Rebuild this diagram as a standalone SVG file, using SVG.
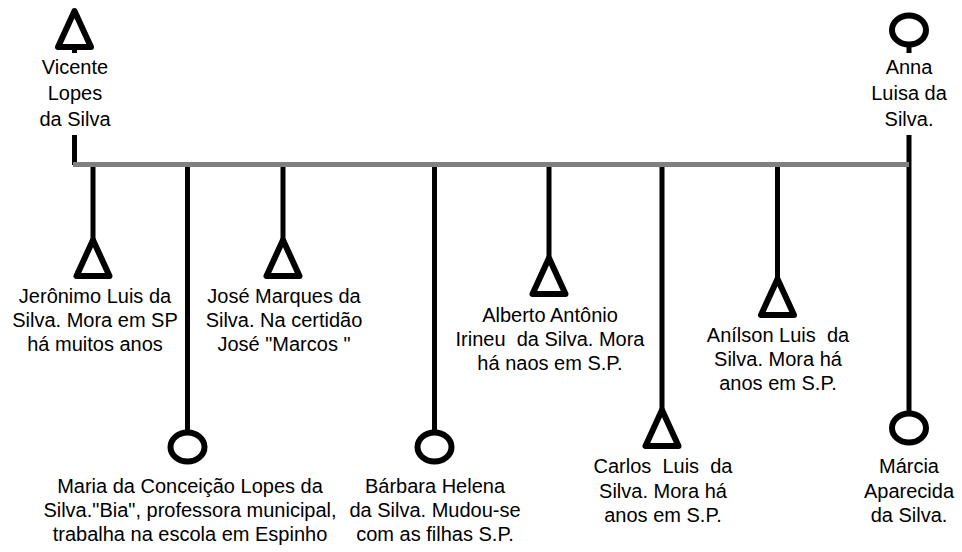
<svg xmlns="http://www.w3.org/2000/svg" xmlns:xlink="http://www.w3.org/1999/xlink" width="962" height="552" viewBox="0 0 962 552">
<style>
.ln{stroke:#000;stroke-width:5;fill:none}
.sym{stroke:#000;stroke-width:6;fill:#fff;stroke-linejoin:round}
.bar{stroke:#808080;stroke-width:5;fill:none}
text{font-family:"Liberation Sans",Arial,sans-serif;font-size:20px;fill:#000;text-anchor:middle;white-space:pre}
</style>
<defs>
<path id="tri" d="M0,0 L-16.5,36 L16.5,36 Z"/>
</defs>
<rect width="962" height="552" fill="#fff"/>
<g id="connectors">
<line class="ln" x1="74.5" y1="135" x2="74.5" y2="165"/>
<line class="ln" x1="909" y1="135" x2="909" y2="413"/>
<line class="ln" x1="74.5" y1="46" x2="74.5" y2="53"/>
<line class="ln" x1="909" y1="44" x2="909" y2="53"/>
<line class="ln" x1="93" y1="164" x2="93" y2="240"/>
<line class="ln" x1="187.5" y1="164" x2="187.5" y2="433"/>
<line class="ln" x1="283" y1="164" x2="283" y2="240"/>
<line class="ln" x1="434.5" y1="164" x2="434.5" y2="433"/>
<line class="ln" x1="549" y1="164" x2="549" y2="258"/>
<line class="ln" x1="662" y1="164" x2="662" y2="410"/>
<line class="ln" x1="777.5" y1="164" x2="777.5" y2="279"/>
<line class="bar" x1="73" y1="164.5" x2="909" y2="164.5"/>
</g>
<g id="vicente">
<use xlink:href="#tri" href="#tri" class="sym" transform="translate(74.5,11)"/>
<text x="75" y="74">Vicente</text>
<text x="75" y="100">Lopes</text>
<text x="75" y="126">da Silva</text>
</g>
<g id="anna">
<ellipse class="sym" cx="909" cy="30" rx="17" ry="14.5"/>
<text x="909" y="74">Anna</text>
<text x="909" y="100">Luisa da</text>
<text x="909" y="126">Silva.</text>
</g>
<g id="jeronimo">
<use xlink:href="#tri" href="#tri" class="sym" transform="translate(93,240)"/>
<text x="95" y="303">Jerônimo Luis da</text>
<text x="95" y="327">Silva. Mora em SP</text>
<text x="95" y="351">há muitos anos</text>
</g>
<g id="maria">
<ellipse class="sym" cx="187.5" cy="447" rx="17" ry="14.5"/>
<text x="190" y="493">Maria da Conceição Lopes da</text>
<text x="190" y="517">Silva."Bia", professora municipal,</text>
<text x="190" y="541">trabalha na escola em Espinho</text>
</g>
<g id="jose">
<use xlink:href="#tri" href="#tri" class="sym" transform="translate(283,240)"/>
<text x="284" y="303">José Marques da</text>
<text x="284" y="327">Silva. Na certidão</text>
<text x="284" y="351">José "Marcos "</text>
</g>
<g id="barbara">
<ellipse class="sym" cx="434.5" cy="447" rx="17" ry="14.5"/>
<text x="435" y="493">Bárbara Helena</text>
<text x="435" y="517">da Silva. Mudou-se</text>
<text x="435" y="541">com as filhas S.P.</text>
</g>
<g id="alberto">
<use xlink:href="#tri" href="#tri" class="sym" transform="translate(549,258)"/>
<text x="550" y="322">Alberto Antônio</text>
<text x="550" y="346">Irineu  da Silva. Mora</text>
<text x="550" y="370">há naos em S.P.</text>
</g>
<g id="carlos">
<use xlink:href="#tri" href="#tri" class="sym" transform="translate(662,410)"/>
<text x="663" y="473">Carlos  Luis  da</text>
<text x="663" y="498">Silva. Mora há</text>
<text x="663" y="522">anos em S.P.</text>
</g>
<g id="anilson">
<use xlink:href="#tri" href="#tri" class="sym" transform="translate(777.5,279)"/>
<text x="778" y="342">Anílson Luis  da</text>
<text x="778" y="366">Silva. Mora há</text>
<text x="778" y="390">anos em S.P.</text>
</g>
<g id="marcia">
<ellipse class="sym" cx="909" cy="428" rx="17" ry="14.5"/>
<text x="909" y="473">Márcia</text>
<text x="909" y="498">Aparecida</text>
<text x="909" y="522">da Silva.</text>
</g>
</svg>
